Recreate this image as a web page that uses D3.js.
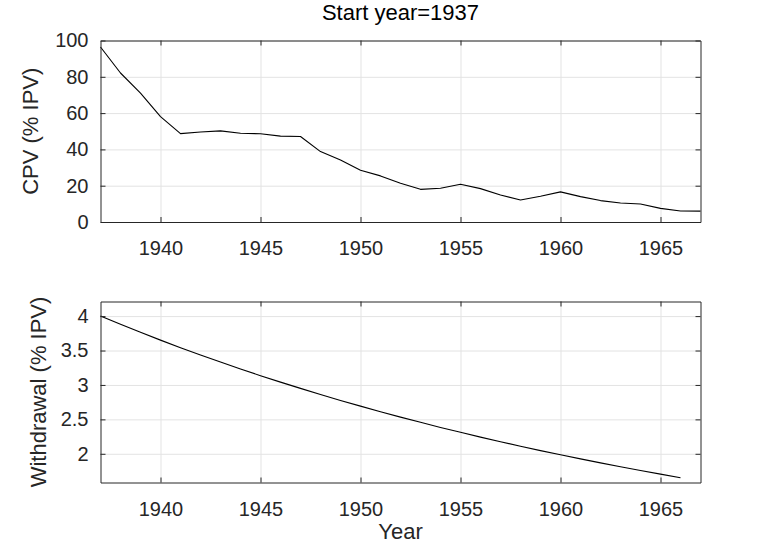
<!DOCTYPE html>
<html>
<head>
<meta charset="utf-8">
<script src="https://cdn.jsdelivr.net/npm/d3@7"></script>
<style>
html,body{margin:0;padding:0;background:#fff;}
svg{display:block;font-family:"Liberation Sans",Arial,Helvetica,sans-serif;}
</style>
</head>
<body>
<svg id="chart" width="774" height="543"></svg>
<script>
// ---- data ----
const titleText = "Start year=1937";
const xLabel = "Year";
const yLabelTop = "CPV (% IPV)";
const yLabelBottom = "Withdrawal (% IPV)";

const cpvYears = [1937,1938,1939,1940,1941,1942,1943,1944,1945,1946,1947,1948,1949,1950,1951,1952,1953,1954,1955,1956,1957,1958,1959,1960,1961,1962,1963,1964,1965,1966,1967];
const cpvValues = [96.4,82.1,71.0,58.1,48.7,49.6,50.2,48.9,48.6,47.3,47.1,38.8,34.2,28.5,25.4,21.3,18.0,18.6,20.8,18.4,14.9,12.1,14.2,16.6,14.0,11.8,10.5,9.9,7.5,6.1,6.0];

const wdYears = [1937,1938,1939,1940,1941,1942,1943,1944,1945,1946,1947,1948,1949,1950,1951,1952,1953,1954,1955,1956,1957,1958,1959,1960,1961,1962,1963,1964,1965,1966];
const wdValues = [4.000,3.880,3.764,3.651,3.541,3.435,3.332,3.232,3.135,3.041,2.950,2.861,2.775,2.692,2.611,2.533,2.457,2.383,2.312,2.242,2.175,2.110,2.046,1.985,1.926,1.868,1.812,1.757,1.705,1.653];

const xTicks = [1940,1945,1950,1955,1960,1965];
const xTickLabels = ["1940","1945","1950","1955","1960","1965"];
const yTicksTop = [0,20,40,60,80,100];
const yTickLabelsTop = ["0","20","40","60","80","100"];
const yTicksBottom = [2,2.5,3,3.5,4];
const yTickLabelsBottom = ["2","2.5","3","3.5","4"];

const xDomain = [1937,1967];
const yDomainTop = [0,100];
const yDomainBottom = [1.583,4.212];

// ---- layout ----
const svg = d3.select("#chart");
const L = 100.5, R = 700.5;
const panels = [
  {top:40.5, bottom:222, xs:cpvYears, ys:cpvValues, ydom:yDomainTop, yt:yTicksTop, ytl:yTickLabelsTop, ylabel:yLabelTop, ylx:38},
  {top:301.5, bottom:482.5, xs:wdYears, ys:wdValues, ydom:yDomainBottom, yt:yTicksBottom, ytl:yTickLabelsBottom, ylabel:yLabelBottom, ylx:46}
];
const axisColor = "#262626";
const gridColor = "#e3e3e3";
const tickFont = 20;
const labelFont = 22;

panels.forEach(p => {
  const x = d3.scaleLinear().domain(xDomain).range([L, R]);
  const y = d3.scaleLinear().domain(p.ydom).range([p.bottom, p.top]);
  const h = p.bottom - p.top, w = R - L;
  const g = svg.append("g");

  // grid
  g.append("g").attr("transform", `translate(0,${p.bottom})`)
    .call(d3.axisBottom(x).tickValues(xTicks).tickSize(-h).tickFormat(""))
    .call(s => { s.select(".domain").remove(); s.selectAll("line").attr("stroke", gridColor).attr("stroke-width",1); });
  g.append("g").attr("transform", `translate(${L},0)`)
    .call(d3.axisLeft(y).tickValues(p.yt).tickSize(-w).tickFormat(""))
    .call(s => { s.select(".domain").remove(); s.selectAll("line").attr("stroke", gridColor).attr("stroke-width",1); });

  // line
  const line = d3.line().x((d,i) => x(p.xs[i])).y(d => y(d));
  g.append("path").datum(p.ys).attr("d", line)
    .attr("fill","none").attr("stroke","#000").attr("stroke-width",1.1).attr("stroke-linejoin","round");

  // axes (ticks inward, box)
  const bottomAx = g.append("g").attr("transform", `translate(0,${p.bottom})`)
    .call(d3.axisBottom(x).tickValues(xTicks).tickSizeInner(-5).tickSizeOuter(0).tickPadding(19)
      .tickFormat((d,i) => xTickLabels[i]));
  const topAx = g.append("g").attr("transform", `translate(0,${p.top})`)
    .call(d3.axisTop(x).tickValues(xTicks).tickSizeInner(-5).tickSizeOuter(0).tickFormat(""));
  const leftAx = g.append("g").attr("transform", `translate(${L},0)`)
    .call(d3.axisLeft(y).tickValues(p.yt).tickSizeInner(-5).tickSizeOuter(0).tickPadding(12)
      .tickFormat((d,i) => p.ytl[i]));
  const rightAx = g.append("g").attr("transform", `translate(${R},0)`)
    .call(d3.axisRight(y).tickValues(p.yt).tickSizeInner(-5).tickSizeOuter(0).tickFormat(""));
  [bottomAx, topAx, leftAx, rightAx].forEach(a => {
    a.select(".domain").attr("stroke", axisColor).attr("stroke-width",1);
    a.selectAll(".tick line").attr("stroke", axisColor).attr("stroke-width",1);
    a.selectAll("text").attr("fill", axisColor).attr("font-size", tickFont)
      .attr("font-family", '"Liberation Sans",Arial,Helvetica,sans-serif');
  });

  // y label
  g.append("text")
    .attr("transform", `translate(${p.ylx},${(p.top+p.bottom)/2}) rotate(-90)`)
    .attr("text-anchor","middle").attr("font-size", labelFont).attr("fill", axisColor)
    .text(p.ylabel);
});

// title
svg.append("text").attr("x", (L+R)/2).attr("y", 20).attr("text-anchor","middle")
  .attr("font-size", labelFont).attr("fill","#000").text(titleText);
// x label
svg.append("text").attr("x", (L+R)/2).attr("y", 539).attr("text-anchor","middle")
  .attr("font-size", labelFont).attr("fill", axisColor).text(xLabel);
</script>
</body>
</html>
